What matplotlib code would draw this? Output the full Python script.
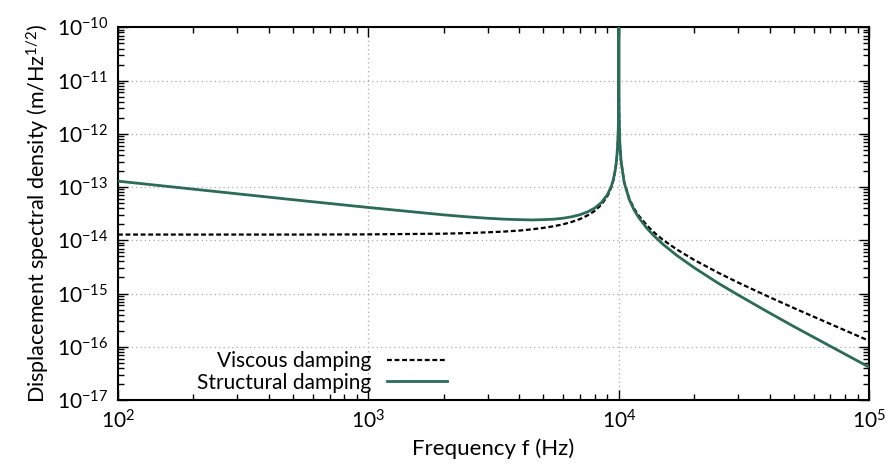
import numpy as np
import matplotlib
matplotlib.use("Agg")
import matplotlib.pyplot as plt
from matplotlib.ticker import LogLocator, NullFormatter, LogFormatterSciNotation

# frequency points (Hz)
freq = [100, 200, 500, 1000, 2000, 2500, 3000, 3500, 4000, 4500, 5000, 5500,
        6000, 6500, 7000, 7500, 8000, 8500,
        9000, 9300, 9500, 9700, 9800, 9900, 9950, 9980, 9990, 9995, 9998,
        10000, 10002, 10005, 10010, 10020, 10050, 10100, 10200, 10500,
        11000, 11500, 12000, 13000, 14000, 15000, 17000, 20000, 25000,
        30000, 40000, 50000, 70000, 100000]

# viscous damping (m/Hz^1/2)
viscous = [1.28e-14, 1.28e-14, 1.28e-14, 1.29e-14, 1.33e-14, 1.365e-14,
           1.41e-14, 1.46e-14, 1.52e-14, 1.605e-14, 1.71e-14, 1.835e-14,
           2.0e-14, 2.22e-14, 2.51e-14, 2.93e-14, 3.55e-14, 4.61e-14,
           6.72e-14, 9.47e-14, 1.31e-13, 2.17e-13, 3.23e-13, 6.43e-13,
           1.28e-12, 3.2e-12, 6.4e-12, 1.28e-11, 3.2e-11,
           1e-9, 3.2e-11, 1.28e-11, 6.4e-12, 3.2e-12, 1.28e-12, 6.37e-13,
           3.17e-13, 1.25e-13, 6.09e-14, 3.97e-14, 2.91e-14, 1.86e-14,
           1.33e-14, 1.02e-14, 6.77e-15, 4.27e-15, 2.44e-15,
           1.6e-15, 8.53e-16, 5.33e-16, 2.67e-16, 1.29e-16]

# structural damping (m/Hz^1/2)
structural = [1.29e-13, 9.13e-14, 5.78e-14, 4.13e-14, 3.0e-14, 2.75e-14,
              2.59e-14, 2.49e-14, 2.44e-14, 2.41e-14, 2.44e-14, 2.49e-14,
              2.6e-14, 2.77e-14, 3.02e-14, 3.41e-14, 4.01e-14, 5.05e-14,
              7.17e-14, 9.91e-14, 1.35e-13, 2.22e-13, 3.3e-13, 6.52e-13,
              1.3e-12, 3.23e-12, 6.47e-12, 1.29e-11, 3.23e-11,
              1e-9, 3.22e-11, 1.29e-11, 6.46e-12, 3.22e-12, 1.28e-12, 6.39e-13,
              3.16e-13, 1.23e-13, 5.86e-14, 3.73e-14, 2.68e-14, 1.64e-14,
              1.14e-14, 8.43e-15, 5.24e-15, 3.05e-15, 1.55e-15,
              9.35e-16, 4.31e-16, 2.4e-16, 1.02e-16, 4.13e-17]

xticks = [1e2, 1e3, 1e4, 1e5]
yticks = [1e-17, 1e-16, 1e-15, 1e-14, 1e-13, 1e-12, 1e-11, 1e-10]

plt.rcParams['font.family'] = ['Lato', 'DejaVu Sans']
plt.rcParams['mathtext.fontset'] = 'custom'
plt.rcParams['mathtext.rm'] = 'Lato'
plt.rcParams['mathtext.it'] = 'Lato:italic'
plt.rcParams['mathtext.bf'] = 'Lato:bold'
plt.rcParams['axes.unicode_minus'] = False

fig = plt.figure(figsize=(8.87, 4.67), dpi=100)
ax = fig.add_axes([0.133, 0.1435, 0.847, 0.798])

ax.plot(freq, viscous, color='black', lw=1.6, ls=(0, (2.2, 1.2)),
        label='Viscous damping', zorder=2)
ax.plot(freq, structural, color='#2b6b57', lw=2.0,
        label='Structural damping', zorder=3)

ax.set_xscale('log')
ax.set_yscale('log')
ax.set_xlim(1e2, 1e5)
ax.set_ylim(1e-17, 1e-10)

ax.set_xticks(xticks)
ax.set_yticks(yticks)
ax.xaxis.set_major_formatter(LogFormatterSciNotation())
ax.yaxis.set_major_formatter(LogFormatterSciNotation())
ax.xaxis.set_minor_locator(LogLocator(base=10, subs=np.arange(2, 10), numticks=20))
ax.yaxis.set_minor_locator(LogLocator(base=10, subs=np.arange(2, 10), numticks=20))
ax.xaxis.set_minor_formatter(NullFormatter())
ax.yaxis.set_minor_formatter(NullFormatter())
ax.set_xlim(1e2, 1e5)
ax.set_ylim(1e-17, 1e-10)

ax.tick_params(which='both', direction='in', top=True, right=True,
               labelsize=15, width=1.0)
ax.tick_params(which='major', length=7, pad=7)
ax.tick_params(which='minor', length=4)
for s in ax.spines.values():
    s.set_linewidth(1.5)

ax.grid(True, which='major', ls=(0, (1, 2.5)), color='#aaaaaa', lw=0.9)

ax.set_xlabel('Frequency f (Hz)', fontsize=16, labelpad=4)
ax.set_ylabel('Displacement spectral density (m/Hz$^{1/2}$)', fontsize=15.5,
              labelpad=4)

ax.legend(loc='lower right', bbox_to_anchor=(0.438, 0.02), frameon=False,
          markerfirst=False, fontsize=15, handlelength=2.9,
          handletextpad=0.75, labelspacing=0.05, borderaxespad=0.0,
          borderpad=0.0)

fig.savefig('out.png', dpi=100)
